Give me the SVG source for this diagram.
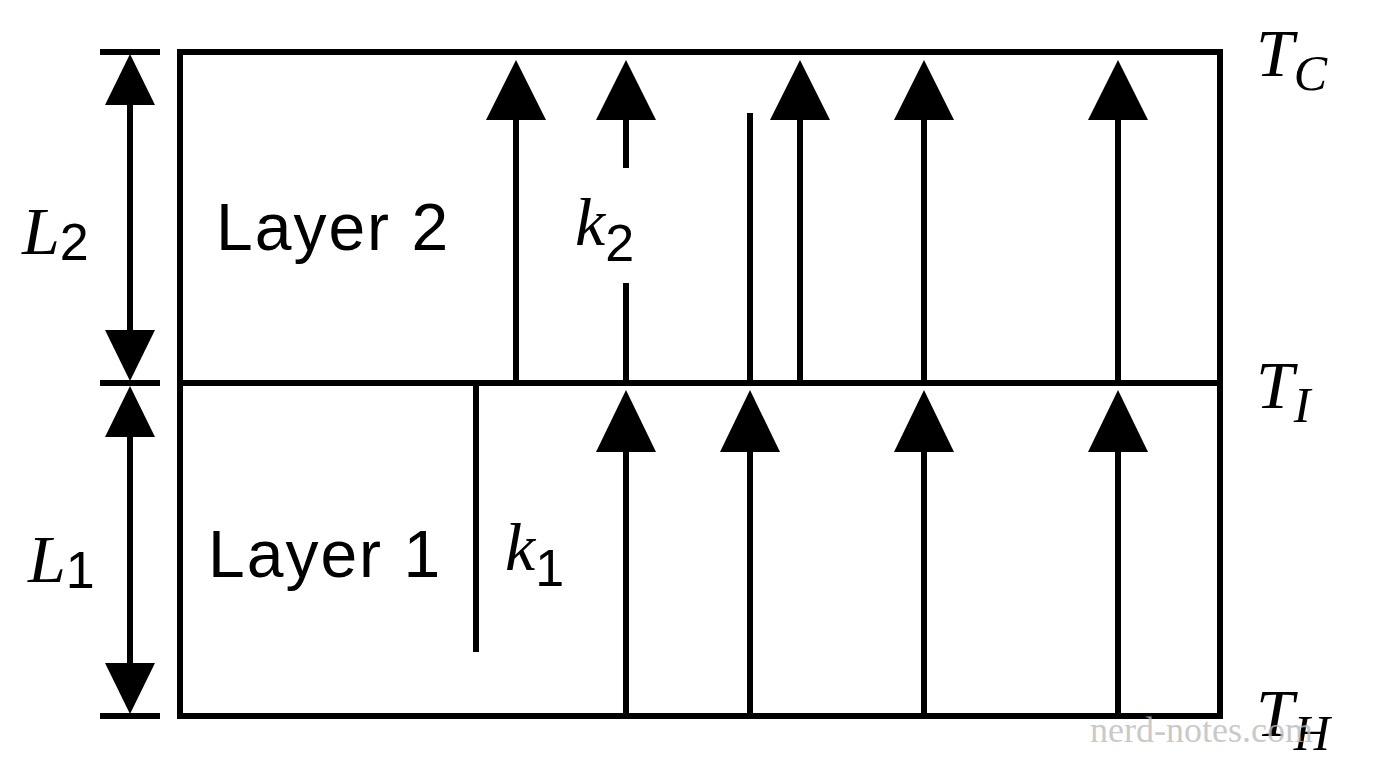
<svg xmlns="http://www.w3.org/2000/svg" width="1376" height="768" viewBox="0 0 1376 768">
<style>
.l{stroke:#000;stroke-width:6;fill:none}
.h{fill:#000}
.t{font-family:"Liberation Sans",Arial,sans-serif;font-size:66px;letter-spacing:2px}
.m{font-family:"Liberation Serif","Times New Roman",serif;font-style:italic;font-size:68px}
.s{font-family:"Liberation Sans",Arial,sans-serif;font-size:52px;font-style:normal}
.si{font-family:"Liberation Serif",serif;font-style:italic;font-size:50px}
</style>
<rect width="1376" height="768" fill="#fff"/>
<g id="box">
<rect class="l" x="180" y="52" width="1040" height="664"/>
<line class="l" x1="180" y1="383" x2="1220" y2="383"/>
</g>
<g id="connectors">
<line class="l" x1="516" y1="383" x2="516" y2="110"/><polygon class="h" points="516,60 486,120 546,120"/>
<line class="l" x1="626" y1="168" x2="626" y2="110"/><line class="l" x1="626" y1="283" x2="626" y2="383"/><polygon class="h" points="626,60 596,120 656,120"/>
<line class="l" x1="750" y1="113" x2="750" y2="383"/>
<line class="l" x1="800" y1="383" x2="800" y2="110"/><polygon class="h" points="800,60 770,120 830,120"/>
<line class="l" x1="924" y1="383" x2="924" y2="110"/><polygon class="h" points="924,60 894,120 954,120"/>
<line class="l" x1="1118" y1="383" x2="1118" y2="110"/><polygon class="h" points="1118,60 1088,120 1148,120"/>
<line class="l" x1="476" y1="386" x2="476" y2="652"/>
<line class="l" x1="626" y1="716" x2="626" y2="440"/><polygon class="h" points="626,390 596,452 656,452"/>
<line class="l" x1="750" y1="716" x2="750" y2="440"/><polygon class="h" points="750,390 720,452 780,452"/>
<line class="l" x1="924" y1="716" x2="924" y2="440"/><polygon class="h" points="924,390 894,452 954,452"/>
<line class="l" x1="1118" y1="716" x2="1118" y2="440"/><polygon class="h" points="1118,390 1088,452 1148,452"/>
</g>
<g id="dims">
<line class="l" x1="100" y1="52" x2="160" y2="52" stroke-width="4"/>
<line class="l" x1="100" y1="383" x2="160" y2="383" stroke-width="4"/>
<line class="l" x1="100" y1="716" x2="160" y2="716" stroke-width="4"/>
<line class="l" x1="130" y1="90" x2="130" y2="345" stroke-width="4"/>
<polygon class="h" points="130,54 105,105 155,105"/><polygon class="h" points="130,381 105,330 155,330"/>
<line class="l" x1="130" y1="420" x2="130" y2="680" stroke-width="4"/>
<polygon class="h" points="130,386 105,437 155,437"/><polygon class="h" points="130,714 105,663 155,663"/>
</g>
<g id="labels">
<text class="t" x="216" y="250">Layer 2</text>
<text class="t" x="208" y="577">Layer 1</text>
<text class="m" x="575" y="245">k<tspan class="s" dy="16">2</tspan></text>
<text class="m" x="505" y="570">k<tspan class="s" dy="16">1</tspan></text>
<text class="m" x="22" y="254">L<tspan class="s" dy="6">2</tspan></text>
<text class="m" x="28" y="582">L<tspan class="s" dy="6">1</tspan></text>
<text class="m" x="1256" y="76">T<tspan class="si" dy="14">C</tspan></text>
<text class="m" x="1256" y="408">T<tspan class="si" dy="14">I</tspan></text>
<text class="m" x="1256" y="736">T<tspan class="si" dy="14">H</tspan></text>
<text x="1090" y="742" font-family="Liberation Serif,serif" font-size="36" fill="#bbb" fill-opacity="0.8">nerd-notes.com</text>
</g>
</svg>
